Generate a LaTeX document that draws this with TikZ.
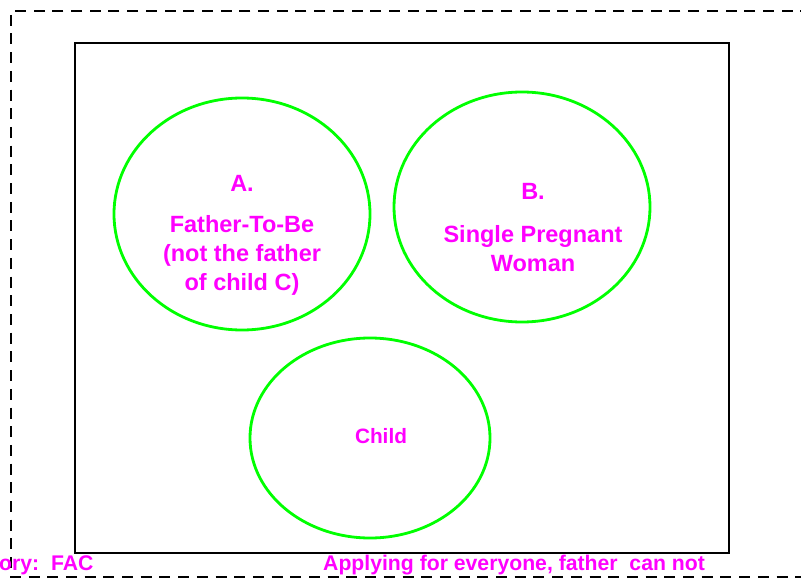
\documentclass[tikz,border=0pt]{standalone}
\usepackage{fontspec}
\setmainfont{Liberation Sans}
\begin{document}
\begin{tikzpicture}[x=1pt,y=-1pt,
  frame/.style={draw=black,line width=2.7pt},
  outerbox/.style={draw=black,line width=2.4pt,dash pattern=on 11pt off 7.7pt},
  party/.style={draw={rgb,255:red,0;green,255;blue,0},line width=2.8pt},
  lbl/.style={text={rgb,255:red,255;green,0;blue,255},font=\bfseries\fontsize{23.5}{29}\selectfont,align=center,inner sep=0pt},
  small/.style={font=\bfseries\fontsize{20.8}{24}\selectfont},
  foot/.style={font=\bfseries\fontsize{21.2}{24}\selectfont}]
  \useasboundingbox (0,0) rectangle (801,580);
  % outer dashed region, running past the right and lower edges
  \draw[outerbox] (830,11) -- (11,11) -- (11,577) -- (830,577);
  % inner frame
  \draw[frame] (75,43) rectangle (729,553);
  % the three parties
  \draw[party] (242,214) ellipse [x radius=128, y radius=116];
  \draw[party] (522,207) ellipse [x radius=128, y radius=115];
  \draw[party] (370,438) ellipse [x radius=120, y radius=100];
  \node[lbl] (a) at (242,183) {A.};
  \node[lbl] (atext) at (242,255) {Father-To-Be\\(not the father\\of child C)};
  \node[lbl] (b) at (533,191) {B.};
  \node[lbl] (btext) at (533,249) {Single Pregnant\\Woman};
  \node[lbl,small] (c) at (381,436) {Child};
  \node[lbl,foot,anchor=west] (cat) at (-1,565) {ory:\ \ FAC};
  \node[lbl,foot,anchor=west] (note) at (323,565) {Applying for everyone, father\ \ can not};
\end{tikzpicture}
\end{document}
